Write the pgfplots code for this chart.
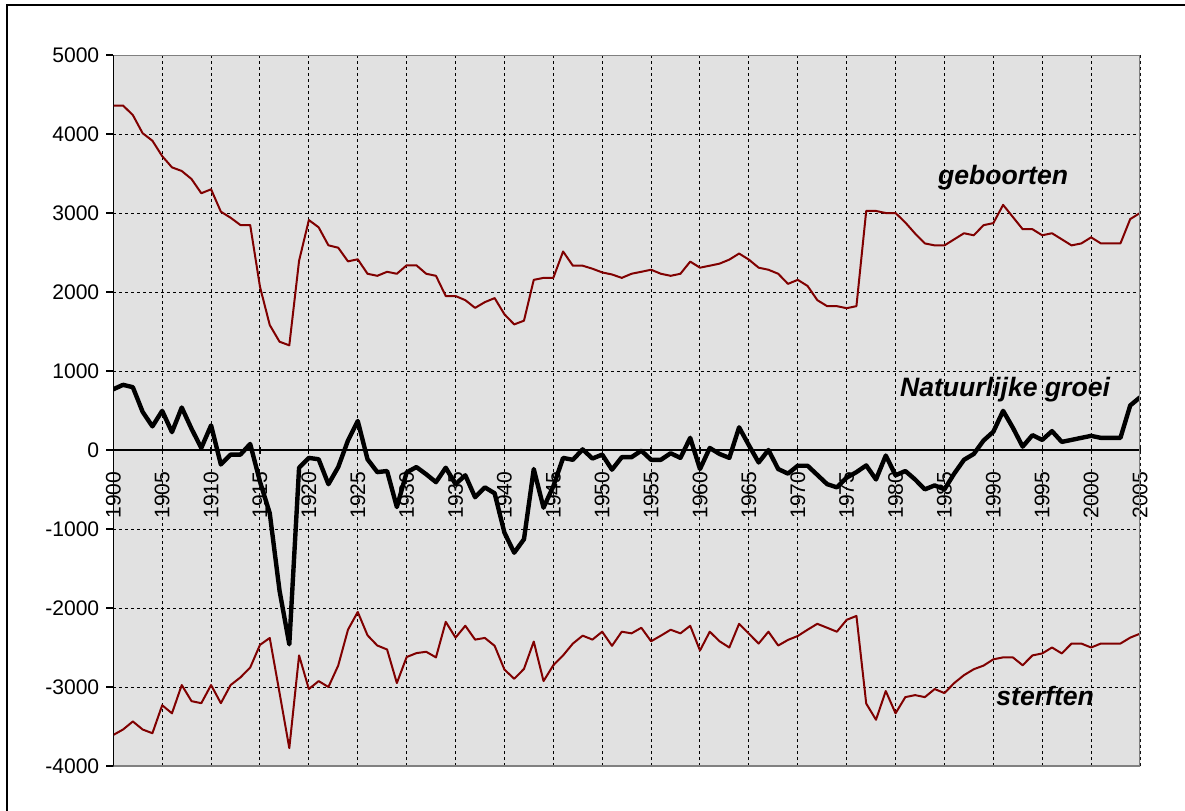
\documentclass[border=0pt]{standalone}
\usepackage{fontspec}
\setmainfont{Liberation Sans}
\usepackage{pgfplots}
\usepackage{pgfplotstable}
\pgfplotsset{compat=1.18}
\definecolor{bg}{RGB}{225,225,225}
\definecolor{maroon}{RGB}{128,0,0}

\pgfplotstableread{
year births deaths growth
1900 4360 -3607 769
1901 4360 -3538 825
1902 4240 -3436 795
1903 4010 -3538 483
1904 3915 -3585 299
1905 3720 -3231 496
1906 3578 -3333 226
1907 3532 -2975 538
1908 3430 -3179 269
1909 3250 -3205 26
1910 3300 -2975 312
1911 3017 -3205 -183
1912 2940 -2975 -58
1913 2848 -2879 -58
1914 2848 -2754 77
1915 2067 -2467 -400
1916 1582 -2379 -800
1917 1371 -3073 -1780
1918 1325 -3774 -2460
1919 2396 -2600 -225
1920 2911 -3026 -100
1921 2819 -2925 -117
1922 2591 -3000 -433
1923 2561 -2729 -217
1924 2388 -2275 120
1925 2414 -2050 368
1926 2231 -2346 -117
1927 2205 -2475 -280
1928 2256 -2525 -266
1929 2231 -2950 -722
1930 2338 -2621 -283
1931 2338 -2571 -216
1932 2231 -2554 -307
1933 2205 -2625 -407
1934 1949 -2175 -224
1935 1949 -2375 -432
1936 1897 -2225 -320
1937 1799 -2400 -598
1938 1872 -2379 -473
1939 1923 -2479 -548
1940 1718 -2779 -1046
1941 1590 -2896 -1300
1942 1637 -2771 -1129
1943 2154 -2425 -241
1944 2179 -2925 -730
1945 2179 -2725 -460
1946 2513 -2600 -100
1947 2333 -2450 -124
1948 2333 -2350 8
1949 2295 -2400 -108
1950 2248 -2300 -58
1951 2222 -2479 -249
1952 2179 -2300 -91
1953 2231 -2321 -91
1954 2256 -2250 -8
1955 2282 -2421 -124
1956 2231 -2350 -124
1957 2205 -2275 -41
1958 2231 -2321 -100
1959 2385 -2225 154
1960 2308 -2538 -241
1961 2333 -2300 26
1962 2359 -2421 -50
1963 2410 -2500 -100
1964 2487 -2200 287
1965 2410 -2325 60
1966 2308 -2450 -158
1967 2282 -2300 0
1968 2231 -2475 -241
1969 2103 -2404 -299
1970 2154 -2354 -199
1971 2077 -2275 -199
1972 1897 -2200 -315
1973 1821 -2250 -432
1974 1821 -2300 -473
1975 1795 -2150 -350
1976 1821 -2100 -280
1977 3026 -3209 -195
1978 3026 -3415 -373
1979 3000 -3051 -70
1980 3000 -3333 -320
1981 2880 -3128 -266
1982 2740 -3103 -373
1983 2615 -3128 -498
1984 2590 -3026 -448
1985 2590 -3077 -498
1986 2667 -2950 -299
1987 2744 -2850 -124
1988 2718 -2775 -50
1989 2846 -2729 120
1990 2872 -2650 231
1991 3103 -2625 496
1992 2949 -2625 282
1993 2795 -2725 43
1994 2795 -2600 188
1995 2718 -2575 128
1996 2744 -2500 239
1997 2667 -2575 103
1998 2590 -2450 128
1999 2615 -2450 154
2000 2692 -2500 179
2001 2615 -2450 154
2002 2615 -2450 154
2003 2615 -2450 154
2004 2923 -2375 564
2005 3000 -2325 667
}\datatable

\begin{document}
\begin{tikzpicture}[x=1pt,y=1pt]
\path[use as bounding box] (0,0) rectangle (592.5,405);
\draw[line width=0.75pt] (3.5,-2) -- (3.5,402.5) -- (595,402.5);
\begin{axis}[
  at={(56.65pt,22pt)}, anchor=south west,
  scale only axis, width=513.35pt, height=355.5pt,
  xmin=1900, xmax=2005, ymin=-4000, ymax=5000,
  axis x line*=middle, axis y line*=left,
  hide obscured x ticks=false, hide obscured y ticks=false,
  axis background/.style={fill=bg},
  xtick={1900,1905,...,2005},
  xticklabels={1900,1905,1910,1915,1920,1925,1930,1935,1940,1945,1950,1955,1960,1965,1970,1975,1980,1985,1990,1995,2000,2005},
  ytick={-4000,-3000,...,5000},
  yticklabels={-4000,-3000,-2000,-1000,0,1000,2000,3000,4000,5000},
  grid=major,
  major grid style={black, line width=0.5pt, dash pattern=on 1.5pt off 1.5pt},
  tick style={black, line width=0.6pt},
  major tick length=3.5pt,
  xtick align=center, ytick align=outside,
  axis line style={black, line width=0.6pt},
  xticklabel style={font=\fontsize{10.55}{12}\selectfont, yshift=-5.5pt, rotate=90, anchor=east},
  yticklabel style={font=\fontsize{10.55}{12}\selectfont},
]
\addplot[maroon, line width=1pt, line join=round] table[x=year,y=births]{\datatable};
\addplot[maroon, line width=1pt, line join=round] table[x=year,y=deaths]{\datatable};
\addplot[black, line width=2.2pt, line join=round] table[x=year,y=growth]{\datatable};
\draw[gray, line width=1pt] (rel axis cs:0,1) -- (rel axis cs:1,1) -- (rel axis cs:1,0) -- (rel axis cs:0,0);
\draw[black, line width=0.75pt] (rel axis cs:0,0) -- (rel axis cs:0,1);
\node[font=\fontsize{13.3}{15}\selectfont\bfseries\itshape] at (axis cs:1991.0,3449) {geboorten};
\node[font=\fontsize{13.3}{15}\selectfont\bfseries\itshape] at (axis cs:1991.2,762) {Natuurlijke groei};
\node[font=\fontsize{13.3}{15}\selectfont\bfseries\itshape] at (axis cs:1995.3,-3120) {sterften};
\end{axis}
\end{tikzpicture}
\end{document}
